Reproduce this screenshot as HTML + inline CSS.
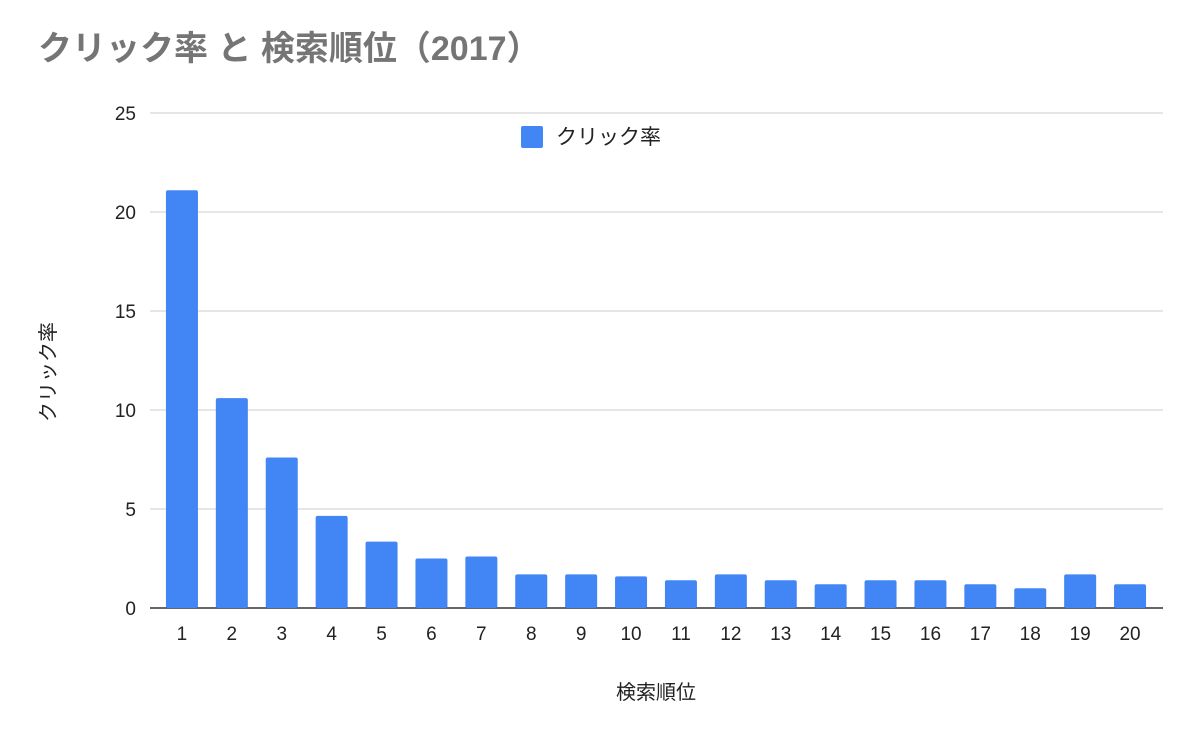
<!DOCTYPE html>
<html><head><meta charset="utf-8">
<style>
body{margin:0;background:#fff;width:1200px;height:742px;overflow:hidden;font-family:"Liberation Sans","Noto Sans CJK JP",sans-serif;}
</style></head>
<body>
<svg id="chart" width="1200" height="742" xmlns="http://www.w3.org/2000/svg" font-family="Liberation Sans, Noto Sans CJK JP, sans-serif">
<text x="38" y="60" font-size="34" font-weight="bold" fill="#757575">クリック率 と 検索順位（2017）</text>
<g id="grid"></g>
<g id="bars"></g>
<g id="xlabels"></g>
<g>
<rect x="521" y="126" width="22" height="22" rx="2" fill="#4285f4"/>
<text x="556" y="144" font-size="21" fill="#222">クリック率</text>
</g>
<text transform="translate(55,372) rotate(-90)" text-anchor="middle" font-size="20" fill="#222">クリック率</text>
<text x="656" y="699" text-anchor="middle" font-size="20" fill="#222">検索順位</text>
</svg>
<script>
const categories=["1","2","3","4","5","6","7","8","9","10","11","12","13","14","15","16","17","18","19","20"];
const values=[21.1,10.6,7.6,4.65,3.35,2.5,2.6,1.7,1.7,1.6,1.4,1.7,1.4,1.2,1.4,1.4,1.2,1.0,1.7,1.2];
const yTicks=[0,5,10,15,20,25];
const NS="http://www.w3.org/2000/svg";
const y0=608,y1=113,yMax=25,plotL=150,plotR=1163,bandL=157,band=49.9,bw=32;
const y=v=>y0-(v/yMax)*(y0-y1);
const x=i=>bandL+band*(i+0.5);
const grid=document.getElementById('grid'),bars=document.getElementById('bars'),xl=document.getElementById('xlabels');
yTicks.forEach(t=>{
 const l=document.createElementNS(NS,'line');
 
 
 l.setAttribute('x1',plotL);l.setAttribute('x2',plotR);l.setAttribute('y1',y(t));l.setAttribute('y2',y(t));
 l.setAttribute('stroke',t===0?'#333':'#ccc');l.setAttribute('stroke-width',t===0?1.5:1);
 grid.appendChild(l);
 const tx=document.createElementNS(NS,'text');
 
 
 tx.setAttribute('x',136);tx.setAttribute('y',y(t)+7);tx.setAttribute('text-anchor','end');tx.setAttribute('font-size','19');tx.setAttribute('fill','#222');
 tx.textContent=t;grid.appendChild(tx);
});
values.forEach((v,i)=>{
 const r=document.createElementNS(NS,'rect');
 
 
 r.setAttribute('x',x(i)-bw/2);r.setAttribute('y',y(v));r.setAttribute('width',bw);r.setAttribute('height',y0-y(v));
 r.setAttribute('rx',2);r.setAttribute('fill','#4285f4');
 bars.appendChild(r);
 const tx=document.createElementNS(NS,'text');
 
 
 tx.setAttribute('x',x(i));tx.setAttribute('y',640);tx.setAttribute('text-anchor','middle');tx.setAttribute('font-size','19');tx.setAttribute('fill','#222');
 tx.textContent=categories[i];xl.appendChild(tx);
});
</script>
</body></html>
